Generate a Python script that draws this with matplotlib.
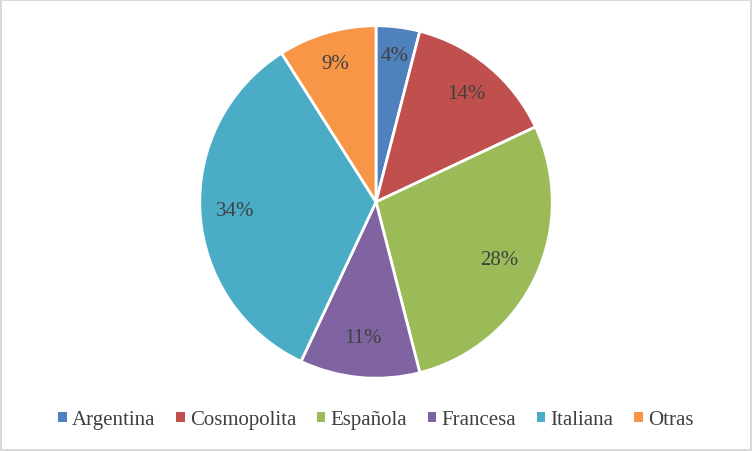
import matplotlib
matplotlib.use("Agg")

import matplotlib.pyplot as plt
import numpy as np
from matplotlib.patches import Patch

# data
categories = ["Argentina", "Cosmopolita", "Española", "Francesa", "Italiana", "Otras"]
shares = [4, 14, 28, 11, 34, 9]
colors = ["#4F81BD", "#C0504D", "#9BBB59", "#8064A2", "#4BACC6", "#F79646"]
# radial position of each percentage label (fraction of radius)
label_dist = [0.84, 0.80, 0.77, 0.77, 0.80, 0.82]

plt.rcParams["font.family"] = ["Liberation Serif", "DejaVu Serif"]
text_color = "#404040"

fig = plt.figure(figsize=(7.52, 4.52), dpi=100)
fig.patch.set_edgecolor("#d9d9d9")
fig.patch.set_linewidth(1.5)

# square axes centred on the pie
w, h = 356 / 752, 356 / 452
ax = fig.add_axes([0.5 - w / 2, 0.551 - h / 2, w, h])
wedges, _ = ax.pie(
    shares, colors=colors, startangle=90, counterclock=False,
    wedgeprops=dict(edgecolor="white", linewidth=2),
)
for wdg, val, d in zip(wedges, shares, label_dist):
    ang = np.deg2rad((wdg.theta1 + wdg.theta2) / 2)
    ax.text(d * np.cos(ang), d * np.sin(ang), f"{val}%", ha="center", va="center",
            fontsize=15, color=text_color)
ax.set_xlim(-1.01, 1.01)
ax.set_ylim(-1.01, 1.01)
ax.set_aspect("equal")
ax.axis("off")

handles = [Patch(facecolor=c, edgecolor="none", label=n) for c, n in zip(colors, categories)]
fig.legend(handles=handles, loc="center", bbox_to_anchor=(0.5, 0.069), ncol=6,
           frameon=False, fontsize=15, handlelength=0.4, handleheight=0.4,
           handletextpad=0.25, columnspacing=1.0, labelcolor=text_color)

fig.savefig("out.png", dpi=100)
plt.close(fig)
